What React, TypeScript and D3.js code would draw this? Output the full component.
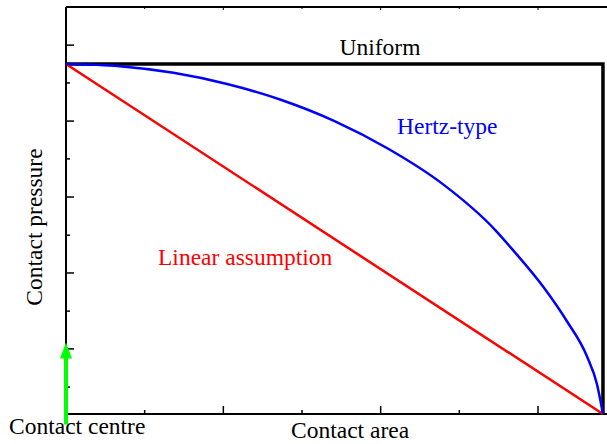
import React from 'react'
import { scaleLinear, line, curveMonotoneX, curveLinear } from 'd3'

// contact half-width is the right end of the curves (x in axis units)
const hertzX = [0, 0.341, 0.683, 1.024, 1.365, 1.707, 2.048, 2.389, 2.73, 2.84, 3.031, 3.184, 3.311, 3.375, 3.413]
const hertzP = [1, 0.994, 0.975, 0.943, 0.898, 0.837, 0.758, 0.659, 0.525, 0.469, 0.365, 0.265, 0.165, 0.085, 0]
const linearX = [0, 3.413]
const linearP = [1, 0]
const uniformX = [0, 3.413, 3.413]
const uniformP = [1, 1, 0]

const xMajorTicks = [0, 1, 2, 3]
const xMinorTicks = [0.5, 1.5, 2.5, 3.5]
const yMajorTicks = [0.186, 0.403, 0.62, 0.837, 1.054]
const yMinorTicks = [0.077, 0.294, 0.511, 0.729, 0.946]

// green arrow marking the contact centre
const arrowFrom = -0.03
const arrowTo = 0.204

const W = 607
const H = 444
const FONT = '"Liberation Serif", "Times New Roman", serif'

const App = () => {
  const xScale = scaleLinear().domain([0, 3.6]).range([66, 66 + 3.6 * 157.33])
  const yScale = scaleLinear().domain([0, 1.163]).range([414, 7])

  const mk = (xs: number[], ps: number[], curve: any) =>
    line<number>()
      .x((_, i) => xScale(xs[i]))
      .y((p) => yScale(p))
      .curve(curve)(ps) || ''

  const x0 = xScale(0)
  const x1 = xScale(3.6)
  const yb = yScale(0)
  const yt = yScale(1.163)

  const ax = xScale(0)
  const aTip = yScale(arrowTo)
  const aBase = yScale(arrowFrom)

  return (
    <svg width={W} height={H} style={{ position: 'absolute', left: 0, top: 0, background: '#fff' }}>
      <rect width={W} height={H} fill="#fff" />
      {/* frame */}
      <line x1={x0} x2={x1} y1={yb} y2={yb} stroke="#000" strokeWidth={2} />
      <line x1={x0} x2={x1} y1={yt} y2={yt} stroke="#000" strokeWidth={2} />
      <line x1={x0} x2={x0} y1={yt} y2={yb} stroke="#000" strokeWidth={2} />

      {xMajorTicks.map((t) => (
        <g key={'xM' + t}>
          <line x1={xScale(t)} x2={xScale(t)} y1={yb} y2={yb - 8} stroke="#000" strokeWidth={1.5} />
          <line x1={xScale(t)} x2={xScale(t)} y1={yt} y2={yt + 3} stroke="#000" strokeWidth={1} />
        </g>
      ))}
      {xMinorTicks.map((t) => (
        <g key={'xm' + t}>
          <line x1={xScale(t)} x2={xScale(t)} y1={yb} y2={yb - 4} stroke="#000" strokeWidth={1.5} />
          <line x1={xScale(t)} x2={xScale(t)} y1={yt} y2={yt + 2} stroke="#000" strokeWidth={1} />
        </g>
      ))}
      {yMajorTicks.map((t) => (
        <line key={'yM' + t} x1={x0} x2={x0 + 8} y1={yScale(t)} y2={yScale(t)} stroke="#000" strokeWidth={1.5} />
      ))}
      {yMinorTicks.map((t) => (
        <line key={'ym' + t} x1={x0} x2={x0 + 4} y1={yScale(t)} y2={yScale(t)} stroke="#000" strokeWidth={1.5} />
      ))}

      {/* distributions */}
      <path d={mk(uniformX, uniformP, curveLinear)} fill="none" stroke="#000" strokeWidth={3.5} />
      <path d={mk(linearX, linearP, curveLinear)} fill="none" stroke="#ff0000" strokeWidth={2.5} />
      <path d={mk(hertzX, hertzP, curveMonotoneX)} fill="none" stroke="#0000ff" strokeWidth={2.5} />

      {/* arrow */}
      <line x1={ax} x2={ax} y1={aBase} y2={aTip + 8} stroke="#00ff00" strokeWidth={4} />
      <path d={`M${ax},${aTip} L${ax - 6},${aTip + 16} L${ax + 6},${aTip + 16} Z`} fill="#00ff00" />

      <g fontFamily={FONT} fontSize={23.5}>
        <text x={380} y={55} textAnchor="middle" fill="#000">Uniform</text>
        <text x={397} y={134} fill="#0000ff">Hertz-type</text>
        <text x={158} y={265} fill="#ff0000">Linear assumption</text>
        <text x={9} y={434} fill="#000">Contact centre</text>
        <text x={291} y={438} fill="#000">Contact area</text>
        <text transform="translate(42,227) rotate(-90)" textAnchor="middle" fill="#000">Contact pressure</text>
      </g>
    </svg>
  )
}

export default App
